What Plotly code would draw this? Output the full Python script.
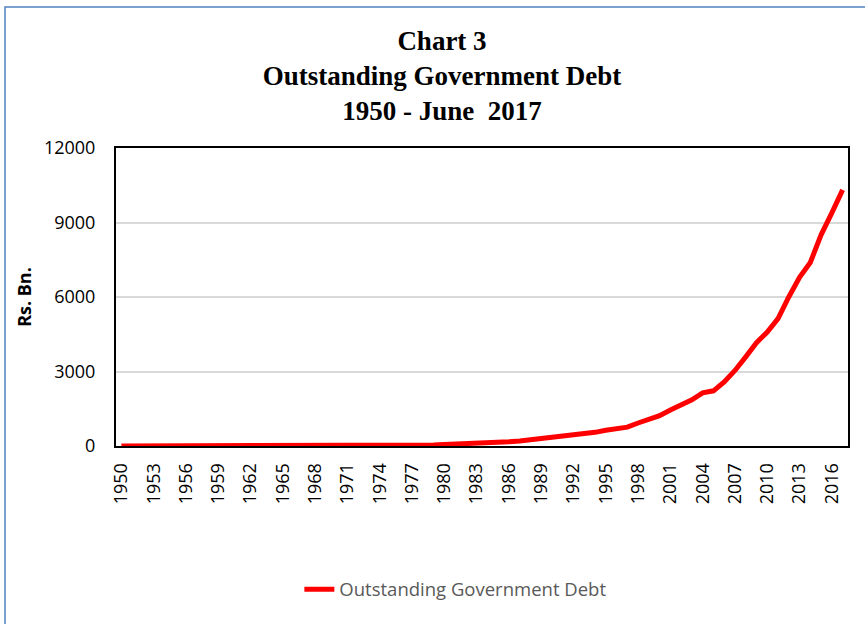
import plotly.graph_objects as go

# Outstanding government debt, Rs. Bn., end of each year (2017 = end June)
years = list(range(1950, 2018))
debt = [
    1.2, 1.3, 1.5, 1.7, 1.8, 1.9, 2.0, 2.2, 2.5, 2.9,
    3.4, 4.0, 4.6, 5.1, 5.6, 6.1, 6.7, 7.3, 8.0, 8.8,
    9.9, 11.2, 13.0, 14.5, 15.8, 18.5, 22.0, 29.0, 37.0, 43.0,
    58.0, 70.0, 90.0, 110.0, 122.0, 148.0, 175.0, 205.0, 250.0, 290.0,
    325.0, 385.0, 420.0, 490.0, 550.0, 632.0, 703.0, 760.0, 927.0, 1050.0,
    1220.0, 1452.0, 1670.0, 1863.0, 2139.0, 2222.0, 2583.0, 3042.0, 3589.0, 4161.0,
    4590.0, 5133.0, 6000.0, 6793.0, 7391.0, 8503.0, 9387.0, 10313.0,
]
year_labels = [str(y) for y in years]
tick_labels = [str(y) for y in years[::3]]
y_ticks = [0, 3000, 6000, 9000, 12000]
y_tick_text = [str(v) for v in y_ticks]

fig = go.Figure()
fig.add_trace(go.Scatter(
    x=year_labels, y=debt, mode="lines",
    name="Outstanding Government Debt",
    line=dict(color="#ff0000", width=5),
))

tick_font = dict(family="Open Sans, Noto Sans, sans-serif", size=18, color="#000000")

fig.update_layout(
    width=865, height=624,
    paper_bgcolor="white", plot_bgcolor="white",
    margin=dict(l=116, r=17, t=148, b=178),
    title=dict(
        text="Chart 3<br>Outstanding Government Debt<br>1950 - June&nbsp; 2017",
        font=dict(family="Liberation Serif, Times New Roman, serif", size=27, color="#000000", weight="bold"),
        x=0.511, xanchor="center", xref="container",
        y=0.92, yanchor="top", yref="container",
    ),
    xaxis=dict(
        type="category", automargin=False,
        range=[-0.5, len(years) - 0.5],
        tickmode="array", tickvals=tick_labels, ticktext=tick_labels,
        tickangle=-90, tickfont=tick_font,
        showgrid=False, zeroline=False,
        showline=True, linecolor="#000000", linewidth=2, mirror=True,
        ticks="", ticklabelstandoff=8,
    ),
    yaxis=dict(
        automargin=False,
        range=[0, 12000], tickmode="array", tickvals=y_ticks, ticktext=y_tick_text,
        tickfont=tick_font,
        showgrid=True, gridcolor="#d9d9d9", gridwidth=1.5, zeroline=False,
        showline=True, linecolor="#000000", linewidth=2, mirror=True,
        ticks="", ticklabelstandoff=15,
        title=dict(text="<b>Rs. Bn.</b>", font=dict(family="Open Sans, Noto Sans, sans-serif", size=18, color="#000000"), standoff=8),
    ),
    showlegend=True,
    legend=dict(
        orientation="h", x=0.527, xanchor="center", xref="container",
        y=0.055, yanchor="middle", yref="container",
        font=dict(family="Open Sans, Noto Sans, sans-serif", size=18.5, color="#595959"),
        bgcolor="rgba(0,0,0,0)",
    ),
)

# outer chart-area frame
fig.add_shape(
    type="rect", xref="paper", yref="paper",
    x0=-0.1516, x1=1.03, y0=-0.62, y1=1.473,
    line=dict(color="#4f81bd", width=1.5), fillcolor="rgba(0,0,0,0)", layer="below",
)

fig.write_html("out.html")
